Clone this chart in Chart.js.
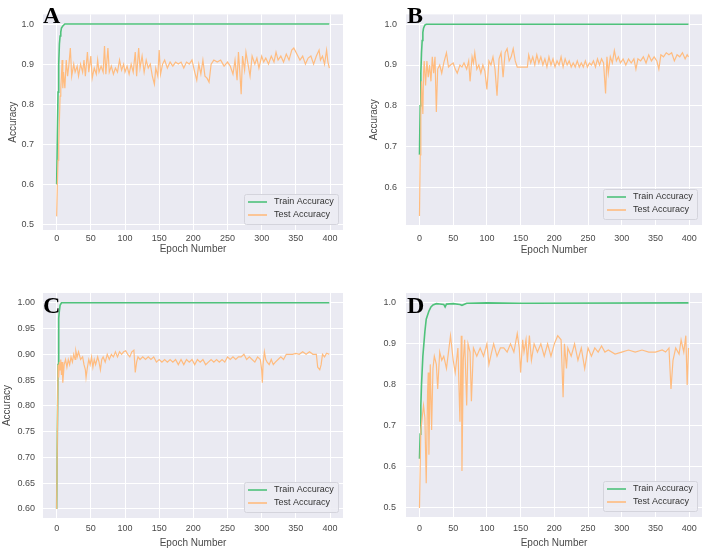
<!DOCTYPE html>
<html>
<head>
<meta charset="utf-8">
<script src="https://cdn.jsdelivr.net/npm/chart.js@4.4.0/dist/chart.umd.min.js"></script>
<style>
    body { margin: 0; background: #fff; }
    #wrap { position: relative; width: 708px; height: 553px; }
    canvas { position: absolute; }
    .tag { position: absolute; font-family: "Liberation Serif", serif; font-weight: bold; font-size: 24px; line-height: 1; color: #000; }
</style>
</head>
<body>
<div id="wrap">
    <canvas id="chartA" width="354" height="276" style="left:0;top:0"></canvas>
    <canvas id="chartB" width="354" height="276" style="left:354px;top:0"></canvas>
    <canvas id="chartC" width="354" height="277" style="left:0;top:276px"></canvas>
    <canvas id="chartD" width="354" height="277" style="left:354px;top:276px"></canvas>
    <div class="tag" style="left:43px;top:3px">A</div>
    <div class="tag" style="left:407px;top:3px">B</div>
    <div class="tag" style="left:43px;top:293px">C</div>
    <div class="tag" style="left:407px;top:293px">D</div>
</div>
<script>
// x ticks shared by all panels
var epochTicks = [0, 50, 100, 150, 200, 250, 300, 350, 400];

// ---- panel A
var trainEpochA = [0, 1, 2, 3, 4, 5, 6, 7, 9, 12, 399];
var trainA = [0.60, 0.72, 0.83, 0.90, 0.95, 0.97, 0.98, 0.99, 0.995, 1.0, 1.0];
var testEpochA = [0, 1, 2, 3, 4, 5, 6, 7, 8, 9, 10, 12, 14, 16, 18, 20, 22, 25, 27, 30, 32, 35, 38, 40, 42, 45, 47, 50, 52, 55, 58, 60, 62, 65, 68, 70, 72, 75, 77, 80, 83, 86, 89, 92, 95, 98, 100, 103, 106, 109, 112, 115, 117, 120, 122, 125, 128, 131, 134, 137, 140, 143, 145, 148, 150, 152, 155, 158, 162, 166, 170, 174, 178, 182, 186, 190, 194, 198, 202, 205, 208, 211, 214, 217, 220, 223, 226, 230, 235, 240, 245, 250, 254, 258, 261, 264, 266, 268, 270, 272, 275, 277, 280, 283, 286, 290, 293, 296, 300, 303, 306, 310, 314, 318, 321, 324, 328, 332, 336, 340, 344, 347, 350, 353, 356, 360, 364, 368, 372, 376, 380, 384, 386, 389, 392, 395, 397, 399];
var testA = [0.52, 0.60, 0.66, 0.70, 0.76, 0.82, 0.84, 0.87, 0.91, 0.84, 0.88, 0.84, 0.91, 0.87, 0.90, 0.94, 0.87, 0.90, 0.88, 0.895, 0.87, 0.90, 0.88, 0.91, 0.87, 0.93, 0.88, 0.92, 0.865, 0.89, 0.875, 0.91, 0.88, 0.895, 0.88, 0.945, 0.875, 0.94, 0.88, 0.895, 0.875, 0.89, 0.88, 0.91, 0.885, 0.90, 0.88, 0.895, 0.875, 0.90, 0.88, 0.93, 0.87, 0.94, 0.89, 0.92, 0.88, 0.91, 0.89, 0.90, 0.87, 0.85, 0.89, 0.87, 0.935, 0.875, 0.90, 0.91, 0.89, 0.905, 0.895, 0.905, 0.90, 0.905, 0.89, 0.905, 0.90, 0.91, 0.88, 0.86, 0.90, 0.875, 0.91, 0.87, 0.865, 0.855, 0.90, 0.91, 0.905, 0.91, 0.895, 0.905, 0.895, 0.875, 0.91, 0.86, 0.93, 0.88, 0.825, 0.92, 0.885, 0.93, 0.90, 0.87, 0.92, 0.90, 0.915, 0.89, 0.92, 0.905, 0.915, 0.90, 0.92, 0.905, 0.93, 0.91, 0.92, 0.905, 0.925, 0.91, 0.935, 0.94, 0.93, 0.92, 0.91, 0.92, 0.90, 0.915, 0.92, 0.90, 0.92, 0.935, 0.91, 0.92, 0.90, 0.935, 0.905, 0.89];
var yTicksA = [0.5, 0.6, 0.7, 0.8, 0.9, 1.0];

// ---- panel B
var trainEpochB = [0, 1, 2, 3, 4, 5, 6, 8, 10, 399];
var trainB = [0.68, 0.80, 0.88, 0.93, 0.96, 0.98, 0.99, 0.998, 1.0, 1.0];
var testEpochB = [0, 1, 2, 3, 4, 5, 6, 7, 9, 11, 13, 15, 17, 19, 21, 23, 25, 27, 30, 33, 36, 40, 43, 46, 50, 53, 56, 60, 63, 66, 70, 73, 75, 78, 80, 82, 85, 88, 91, 94, 97, 100, 103, 106, 109, 112, 115, 118, 121, 124, 127, 130, 133, 136, 139, 142, 145, 160, 162, 165, 168, 171, 174, 177, 180, 183, 186, 189, 192, 195, 198, 201, 204, 207, 210, 213, 216, 219, 222, 225, 228, 231, 234, 237, 240, 243, 246, 249, 252, 255, 258, 261, 264, 267, 270, 273, 276, 278, 280, 283, 286, 289, 292, 295, 298, 302, 306, 310, 314, 318, 321, 324, 328, 332, 336, 340, 344, 348, 352, 355, 358, 362, 366, 370, 374, 378, 382, 386, 390, 394, 397, 399];
var testB = [0.53, 0.68, 0.78, 0.86, 0.82, 0.78, 0.88, 0.91, 0.85, 0.91, 0.87, 0.90, 0.86, 0.92, 0.88, 0.92, 0.785, 0.89, 0.90, 0.88, 0.905, 0.93, 0.895, 0.90, 0.905, 0.89, 0.88, 0.90, 0.895, 0.905, 0.89, 0.91, 0.86, 0.92, 0.905, 0.93, 0.89, 0.90, 0.88, 0.90, 0.885, 0.84, 0.91, 0.90, 0.92, 0.89, 0.825, 0.915, 0.93, 0.87, 0.93, 0.94, 0.91, 0.92, 0.94, 0.91, 0.895, 0.895, 0.925, 0.905, 0.92, 0.90, 0.925, 0.905, 0.92, 0.90, 0.915, 0.895, 0.92, 0.90, 0.915, 0.895, 0.91, 0.90, 0.92, 0.895, 0.915, 0.90, 0.91, 0.895, 0.905, 0.895, 0.91, 0.895, 0.905, 0.895, 0.91, 0.895, 0.905, 0.90, 0.91, 0.895, 0.915, 0.90, 0.915, 0.905, 0.83, 0.92, 0.88, 0.92, 0.905, 0.935, 0.91, 0.92, 0.905, 0.915, 0.90, 0.915, 0.905, 0.915, 0.89, 0.915, 0.91, 0.92, 0.905, 0.925, 0.91, 0.92, 0.91, 0.89, 0.925, 0.92, 0.93, 0.925, 0.93, 0.91, 0.925, 0.92, 0.93, 0.915, 0.925, 0.92];
var yTicksB = [0.6, 0.7, 0.8, 0.9, 1.0];

// ---- panel C
var trainEpochC = [0, 1, 2, 3, 4, 5, 7, 399];
var trainC = [0.60, 0.75, 0.88, 0.97, 0.985, 0.995, 1.0, 1.0];
var testEpochC = [0, 1, 2, 3, 4, 5, 6, 7, 8, 9, 11, 13, 15, 17, 19, 21, 23, 25, 27, 28, 30, 32, 35, 38, 40, 42, 43, 45, 47, 49, 51, 53, 55, 57, 60, 62, 64, 66, 68, 71, 74, 77, 80, 83, 86, 89, 92, 95, 98, 101, 104, 107, 110, 113, 115, 117, 119, 122, 126, 130, 134, 138, 142, 146, 150, 154, 158, 162, 166, 170, 174, 178, 182, 186, 190, 194, 198, 202, 206, 210, 214, 218, 222, 226, 230, 234, 238, 242, 246, 250, 254, 258, 262, 266, 270, 274, 278, 282, 286, 290, 294, 298, 300, 301, 302, 304, 306, 308, 311, 314, 317, 320, 324, 328, 332, 336, 340, 345, 350, 355, 360, 365, 370, 375, 380, 382, 385, 387, 389, 392, 395, 399];
var testC = [0.60, 0.75, 0.88, 0.855, 0.885, 0.87, 0.89, 0.86, 0.885, 0.845, 0.88, 0.89, 0.875, 0.89, 0.88, 0.895, 0.885, 0.90, 0.89, 0.907, 0.895, 0.905, 0.89, 0.895, 0.88, 0.87, 0.855, 0.875, 0.89, 0.88, 0.895, 0.875, 0.89, 0.88, 0.895, 0.885, 0.87, 0.89, 0.895, 0.885, 0.90, 0.89, 0.90, 0.895, 0.905, 0.895, 0.905, 0.90, 0.905, 0.907, 0.90, 0.895, 0.905, 0.908, 0.865, 0.885, 0.895, 0.89, 0.895, 0.89, 0.895, 0.89, 0.895, 0.885, 0.89, 0.885, 0.89, 0.885, 0.89, 0.885, 0.89, 0.88, 0.89, 0.88, 0.89, 0.885, 0.89, 0.88, 0.89, 0.885, 0.89, 0.88, 0.885, 0.89, 0.885, 0.89, 0.885, 0.89, 0.885, 0.895, 0.89, 0.895, 0.89, 0.895, 0.895, 0.90, 0.89, 0.895, 0.89, 0.885, 0.895, 0.89, 0.87, 0.845, 0.88, 0.905, 0.89, 0.885, 0.88, 0.89, 0.88, 0.885, 0.89, 0.895, 0.89, 0.90, 0.90, 0.90, 0.902, 0.90, 0.905, 0.90, 0.905, 0.90, 0.90, 0.875, 0.87, 0.88, 0.90, 0.895, 0.902, 0.90];
var yTicksC = [0.60, 0.65, 0.70, 0.75, 0.80, 0.85, 0.90, 0.95, 1.00];

// ---- panel D
var trainEpochD = [0, 1, 2, 3, 5, 8, 10, 14, 17, 20, 25, 30, 36, 38, 40, 50, 60, 63, 70, 100, 150, 399];
var trainD = [0.62, 0.68, 0.75, 0.80, 0.87, 0.93, 0.96, 0.98, 0.99, 0.995, 0.998, 0.997, 0.996, 0.99, 0.997, 0.998, 0.996, 0.994, 0.999, 1.0, 0.999, 1.0];
var testEpochD = [0, 2, 4, 6, 8, 10, 12, 13, 14, 16, 18, 20, 22, 25, 27, 30, 33, 36, 40, 43, 46, 50, 53, 55, 57, 60, 62, 63, 65, 67, 70, 72, 75, 77, 80, 85, 90, 95, 100, 103, 107, 110, 115, 120, 125, 130, 135, 140, 145, 148, 150, 153, 155, 158, 160, 163, 166, 170, 175, 180, 185, 190, 195, 200, 205, 210, 213, 215, 218, 220, 225, 230, 235, 240, 245, 250, 255, 260, 265, 270, 275, 280, 290, 300, 310, 320, 330, 340, 350, 360, 365, 370, 373, 376, 380, 385, 388, 392, 395, 397, 399];
var testD = [0.50, 0.69, 0.72, 0.75, 0.72, 0.56, 0.78, 0.83, 0.63, 0.85, 0.69, 0.84, 0.87, 0.85, 0.79, 0.88, 0.86, 0.87, 0.84, 0.88, 0.92, 0.86, 0.83, 0.86, 0.89, 0.71, 0.92, 0.59, 0.86, 0.91, 0.75, 0.90, 0.88, 0.76, 0.89, 0.87, 0.89, 0.87, 0.90, 0.85, 0.88, 0.90, 0.87, 0.89, 0.89, 0.88, 0.90, 0.88, 0.925, 0.89, 0.83, 0.91, 0.88, 0.91, 0.855, 0.92, 0.86, 0.90, 0.88, 0.90, 0.87, 0.90, 0.87, 0.90, 0.92, 0.91, 0.77, 0.90, 0.84, 0.89, 0.87, 0.90, 0.86, 0.89, 0.84, 0.89, 0.87, 0.89, 0.88, 0.895, 0.88, 0.885, 0.875, 0.88, 0.885, 0.88, 0.885, 0.88, 0.88, 0.885, 0.88, 0.89, 0.79, 0.86, 0.89, 0.875, 0.91, 0.88, 0.92, 0.80, 0.89];
var yTicksD = [0.5, 0.6, 0.7, 0.8, 0.9, 1.0];

var greenLine = "#4fc27b";
var orangeLine = "#ffbc7f";
var tickColor = "#4a4a4a";

function toPoints(xs, ys) {
    return xs.map(function(x, i) { return {x: x, y: ys[i]}; });
}

// grey plot background + boxed legend in the lower right corner
var seabornBits = {
    id: "seabornBits",
    beforeDraw: function(chart) {
        var a = chart.chartArea, ctx = chart.ctx;
        ctx.save();
        ctx.fillStyle = "#eaeaf2";
        ctx.fillRect(a.left, a.top, a.right - a.left, a.bottom - a.top);
        ctx.restore();
    },
    afterDraw: function(chart) {
        var a = chart.chartArea, ctx = chart.ctx;
        var w = 94, h = 30;
        var x0 = a.right - 5 - w, y0 = a.bottom - 6 - h;
        ctx.save();
        ctx.fillStyle = "rgba(236,236,243,0.9)";
        ctx.strokeStyle = "#d4d4dc";
        ctx.lineWidth = 1;
        ctx.beginPath();
        ctx.roundRect(x0 + 0.5, y0 + 0.5, w, h, 2);
        ctx.fill();
        ctx.stroke();
        ctx.font = "9px 'Liberation Sans', Arial, sans-serif";
        ctx.textBaseline = "middle";
        chart.data.datasets.forEach(function(ds, i) {
            var yy = y0 + 8 + i * 13;
            ctx.strokeStyle = ds.borderColor;
            ctx.lineWidth = 1.6;
            ctx.beginPath();
            ctx.moveTo(x0 + 4, yy);
            ctx.lineTo(x0 + 23, yy);
            ctx.stroke();
            ctx.fillStyle = "#333";
            ctx.fillText(ds.label, x0 + 30, yy);
        });
        ctx.restore();
    }
};

function makePanel(id, trainX, trainY, testX, testY, yTicks, dec, box) {
    new Chart(id, {
        type: "line",
        data: {
            datasets: [{
                    label: "Train Accuracy",
                    data: toPoints(trainX, trainY),
                    borderColor: greenLine,
                    borderWidth: 1.6,
                    pointRadius: 0,
                    order: 2,
                },
                {
                    label: "Test Accuracy",
                    data: toPoints(testX, testY),
                    borderColor: orangeLine,
                    borderWidth: 1.2,
                    pointRadius: 0,
                    order: 1,
                }
            ]
        },
        plugins: [seabornBits],
        options: {
            responsive: false,
            animation: false,
            layout: {
                padding: { top: box.top, right: box.right, left: 0, bottom: 0 }
            },
            plugins: {
                legend: { display: false },
                tooltip: { enabled: false }
            },
            scales: {
                x: {
                    type: "linear",
                    min: -20,
                    max: 419,
                    afterFit: function(s) { s.height = box.xh; },
                    afterBuildTicks: function(s) {
                        s.ticks = epochTicks.map(function(v) { return {value: v}; });
                    },
                    grid: { color: "#ffffff", lineWidth: 1, drawTicks: false },
                    border: { display: false },
                    ticks: {
                        color: tickColor,
                        padding: box.xpad,
                        maxRotation: 0,
                        font: { family: "'Liberation Sans', Arial, sans-serif", size: 9 }
                    },
                    title: {
                        display: true,
                        text: "Epoch Number",
                        color: tickColor,
                        padding: { top: 0, bottom: box.tpad },
                        font: { family: "'Liberation Sans', Arial, sans-serif", size: 10 }
                    }
                },
                y: {
                    min: box.ymin,
                    max: box.ymax,
                    afterFit: function(s) { s.width = box.yw; },
                    afterBuildTicks: function(s) {
                        s.ticks = yTicks.map(function(v) { return {value: v}; });
                    },
                    grid: { color: "#ffffff", lineWidth: 1, drawTicks: false },
                    border: { display: false },
                    ticks: {
                        color: tickColor,
                        padding: box.ypad,
                        font: { family: "'Liberation Sans', Arial, sans-serif", size: 9 },
                        callback: function(v) { return Number(v).toFixed(dec); }
                    },
                    title: {
                        display: box.ytitle,
                        text: "Accuracy",
                        color: tickColor,
                        padding: { top: box.ytpad, bottom: 0 },
                        font: { family: "'Liberation Sans', Arial, sans-serif", size: 10 }
                    }
                }
            }
        }
    });
}

makePanel("chartA", trainEpochA, trainA, testEpochA, testA, yTicksA, 1,
    {top: 2, right: 11, yw: 43, xh: 46, ymin: 0.486, ymax: 1.024, xpad: 3, tpad: 21, ypad: 9, ytitle: true, ytpad: 7});
makePanel("chartB", trainEpochB, trainB, testEpochB, testB, yTicksB, 1,
    {top: 2, right: 6, yw: 52, xh: 51, ymin: 0.508, ymax: 1.024, xpad: 8, tpad: 20, ypad: 9, ytitle: true, ytpad: 14});
makePanel("chartC", trainEpochC, trainC, testEpochC, testC, yTicksC, 2,
    {top: 17, right: 11, yw: 43, xh: 35, ymin: 0.5825, ymax: 1.019, xpad: 5, tpad: 4, ypad: 8, ytitle: true, ytpad: 1});
makePanel("chartD", trainEpochD, trainD, testEpochD, testD, yTicksD, 1,
    {top: 17, right: 6, yw: 52, xh: 36, ymin: 0.478, ymax: 1.024, xpad: 6, tpad: 4, ypad: 10, ytitle: false, ytpad: 0});
</script>
</body>
</html>
